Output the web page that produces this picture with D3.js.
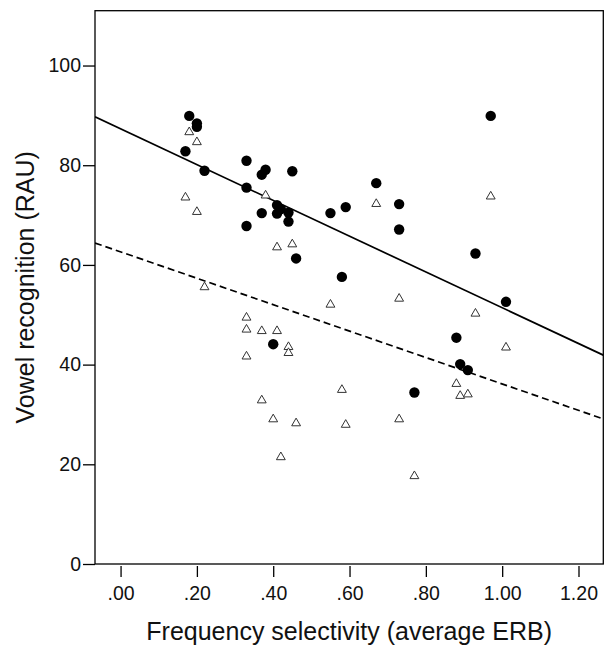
<!DOCTYPE html>
<html>
<head>
<meta charset="utf-8">
<script src="https://cdn.jsdelivr.net/npm/d3@7"></script>
<style>
  html, body { margin: 0; padding: 0; background: #fff; }
  svg { display: block; font-family: "Liberation Sans", Arial, sans-serif; }
</style>
</head>
<body>
<svg id="chart" width="614" height="655"></svg>
<script>
// ---- data ----
const xTicks = [0, 0.2, 0.4, 0.6, 0.8, 1.0, 1.2];
const xTickLabels = [".00", ".20", ".40", ".60", ".80", "1.00", "1.20"];
const yTicks = [0, 20, 40, 60, 80, 100];
const yTickLabels = ["0", "20", "40", "60", "80", "100"];

// filled circles
const circleX = [0.18, 0.20, 0.20, 0.17, 0.22, 0.33, 0.33, 0.33, 0.37, 0.38, 0.37, 0.45,
                 0.41, 0.41, 0.42, 0.44, 0.44, 0.46, 0.40, 0.55, 0.59, 0.58, 0.67, 0.73,
                 0.73, 0.97, 0.93, 1.01, 0.88, 0.89, 0.91, 0.77];
const circleY = [89.9, 88.4, 87.7, 82.8, 78.9, 80.9, 75.5, 67.8, 78.1, 79.1, 70.4, 78.8,
                 72.0, 70.3, 71.2, 70.5, 68.7, 61.3, 44.1, 70.4, 71.6, 57.6, 76.4, 72.2,
                 67.1, 89.9, 62.3, 52.6, 45.4, 40.1, 38.9, 34.4];

// open triangles
const triX = [0.17, 0.18, 0.20, 0.20, 0.22, 0.33, 0.33, 0.33, 0.37, 0.37, 0.38, 0.40,
              0.41, 0.41, 0.42, 0.44, 0.44, 0.45, 0.46, 0.55, 0.58, 0.59, 0.67, 0.73,
              0.73, 0.77, 0.88, 0.89, 0.91, 0.93, 0.97, 1.01];
const triY = [73.7, 86.8, 84.8, 70.8, 55.7, 49.6, 47.2, 41.8, 46.9, 33.0, 74.1, 29.2,
              63.7, 46.9, 21.6, 43.7, 42.5, 64.3, 28.4, 52.2, 35.1, 28.1, 72.4, 53.4,
              29.2, 17.8, 36.3, 33.9, 34.2, 50.4, 73.9, 43.6];

// fit lines (end points)
const solidFitX = [-0.067, 1.265];
const solidFitY = [89.7, 41.9];
const dashedFitX = [-0.067, 1.265];
const dashedFitY = [64.4, 29.1];

const xTitle = "Frequency selectivity (average ERB)";
const yTitle = "Vowel recognition (RAU)";

// ---- drawing ----
const svg = d3.select("#chart");
const L = 95, R = 603.3, T = 10.7, B = 564;

const x = d3.scaleLinear().domain([-0.067, 1.265]).range([L, R]);
const y = d3.scaleLinear().domain([0, 111]).range([B, T]);

// fit lines
const line = d3.line().x(d => x(d[0])).y(d => y(d[1]));
const clip = svg.append("clipPath").attr("id", "clip")
  .append("rect").attr("x", L).attr("y", T).attr("width", R - L).attr("height", B - T);

svg.append("path")
  .datum(solidFitX.map((v, i) => [v, solidFitY[i]]))
  .attr("d", line).attr("fill", "none").attr("stroke", "#000")
  .attr("stroke-width", 1.7).attr("clip-path", "url(#clip)");

svg.append("path")
  .datum(dashedFitX.map((v, i) => [v, dashedFitY[i]]))
  .attr("d", line).attr("fill", "none").attr("stroke", "#000")
  .attr("stroke-width", 1.7).attr("stroke-dasharray", "7,4")
  .attr("clip-path", "url(#clip)");

// triangles
const triSym = d3.symbol().type(d3.symbolTriangle).size(34);
svg.append("g").selectAll("path")
  .data(triX.map((v, i) => [v, triY[i]]))
  .join("path")
  .attr("d", triSym)
  .attr("transform", d => `translate(${x(d[0])},${y(d[1]) + 0.8})`)
  .attr("fill", "#fff").attr("stroke", "#333").attr("stroke-width", 1);

// circles
svg.append("g").selectAll("circle")
  .data(circleX.map((v, i) => [v, circleY[i]]))
  .join("circle")
  .attr("cx", d => x(d[0])).attr("cy", d => y(d[1]))
  .attr("r", 5.2).attr("fill", "#000");

// frame
svg.append("rect").attr("x", L).attr("y", T).attr("width", R - L).attr("height", B - T)
  .attr("fill", "none").attr("stroke", "#000").attr("stroke-width", 1.3);

// y axis
const yAxis = d3.axisLeft(y).tickValues(yTicks)
  .tickFormat((d, i) => yTickLabels[i]).tickSize(12).tickPadding(2).tickSizeOuter(0);
const gy = svg.append("g").attr("transform", `translate(${L},0)`).call(yAxis);
gy.select(".domain").remove();
gy.selectAll("line").attr("stroke", "#000").attr("stroke-width", 1.3);
gy.selectAll("text").attr("font-size", 19.5).attr("fill", "#111")
  .attr("font-family", "Liberation Sans, Arial, sans-serif");

// x axis
const xAxis = d3.axisBottom(x).tickValues(xTicks)
  .tickFormat((d, i) => xTickLabels[i]).tickSize(11).tickPadding(9).tickSizeOuter(0);
const gx = svg.append("g").attr("transform", `translate(0,${B + 2})`).call(xAxis);
gx.select(".domain").remove();
gx.selectAll("line").attr("stroke", "#000").attr("stroke-width", 1.3);
gx.selectAll("text").attr("font-size", 19.5).attr("fill", "#111")
  .attr("font-family", "Liberation Sans, Arial, sans-serif");

// titles
svg.append("text").attr("x", (L + R) / 2).attr("y", 640)
  .attr("text-anchor", "middle").attr("font-size", 25).attr("fill", "#111")
  .text(xTitle);

svg.append("text")
  .attr("transform", `translate(34,${(T + B) / 2}) rotate(-90)`)
  .attr("text-anchor", "middle").attr("font-size", 25).attr("fill", "#111")
  .text(yTitle);
</script>
</body>
</html>
